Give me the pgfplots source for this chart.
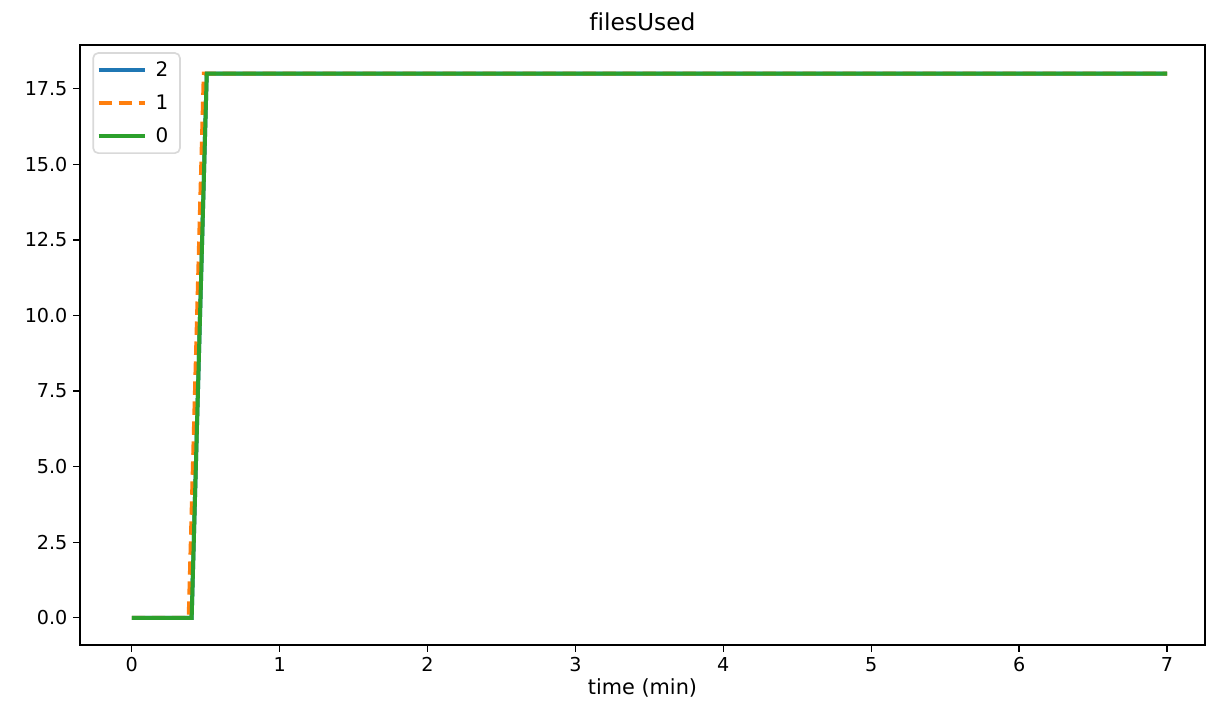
\documentclass[border=0pt]{standalone}
\usepackage{pgfplots}
\pgfplotsset{compat=1.18}
\usepackage{fontspec}
\setmainfont[Ligatures={NoCommon}]{DejaVu Sans}
\definecolor{tabblue}{HTML}{1F77B4}
\definecolor{taborange}{HTML}{FF7F0E}
\definecolor{tabgreen}{HTML}{2CA02C}
\begin{document}
\begin{tikzpicture}
\begin{axis}[
  scale only axis,
  width=675pt, height=360pt,
  xmin=-0.35, xmax=7.257,
  ymin=-0.9, ymax=18.95,
  xtick={0,1,2,3,4,5,6,7},
  ytick={0,2.5,5,7.5,10,12.5,15,17.5},
  yticklabel style={/pgf/number format/.cd,fixed,fixed zerofill,precision=1},
  /pgf/number format/assume math mode=true,
  tick label style={font=\fontsize{11.5}{13}\selectfont},
  tick align=outside,
  xtick pos=bottom, ytick pos=left,
  major tick length=4pt,
  tick style={black, line width=0.8pt},
  axis line style={line width=0.8pt},
  title={filesUsed},
  title style={font=\fontsize{14}{16}\selectfont, yshift=-1pt},
  xlabel={time (min)},
  xlabel style={font=\fontsize{12.5}{14}\selectfont, yshift=3pt},
  legend style={draw=black!15, line width=1pt, rounded corners=3pt, font=\fontsize{12}{14}\selectfont, at={(0.011,0.988)}, anchor=north west, inner xsep=2pt, inner ysep=3pt, row sep=5.5pt, nodes={inner xsep=5pt}},
  legend cell align=left,
  legend image code/.code={\draw[#1] (0pt,0pt) -- (28pt,0pt);},
]
\addplot[tabblue, line width=2.4pt] coordinates {(0,0) (0.405,0) (0.507,18) (7,18)};
\addlegendentry{2}
\addplot[taborange, line width=2.4pt, dash pattern=on 8pt off 4pt] coordinates {(0,0) (0.385,0) (0.487,18) (7,18)};
\addlegendentry{1}
\addplot[tabgreen, line width=2.4pt] coordinates {(0,0) (0.405,0) (0.507,18) (7,18)};
\addlegendentry{0}
\end{axis}
\pgfresetboundingbox
\path (current axis.south west) ++(-48pt,-43.2pt) coordinate (bl);
\path (current axis.north east) ++(3pt,27pt) coordinate (tr);
\path (bl) rectangle (tr);
\end{tikzpicture}
\end{document}
